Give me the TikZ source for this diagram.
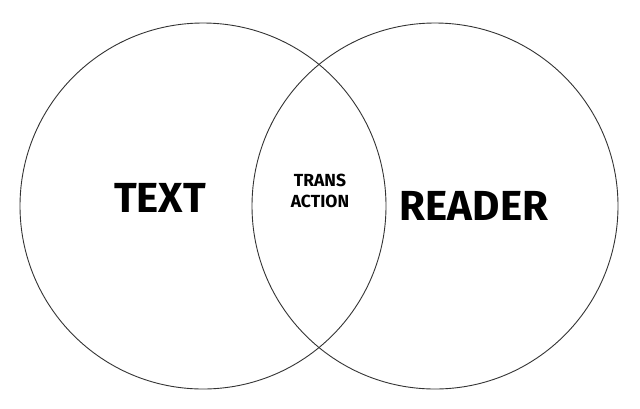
\documentclass[tikz,border=0pt]{standalone}
\usepackage{fontspec}
\setmainfont{Fira Sans}
\begin{document}
\begin{tikzpicture}[x=1pt,y=-1pt,
    ring/.style={draw=black!80,line width=0.9pt},
    biglabel/.style={font=\bfseries\fontsize{42}{42}\selectfont,inner sep=0pt},
    smalllabel/.style={font=\bfseries\fontsize{17.5}{21}\selectfont,inner sep=0pt,align=center}]
    \useasboundingbox (0,0) rectangle (640,408);
    \draw[ring] (203,206) circle[radius=183pt];
    \draw[ring] (435,206) circle[radius=183pt];

    \node[biglabel] (text) at (160,198) {TEXT};
    \node[biglabel] (reader) at (474,206) {READER};
    \node[smalllabel] (trans) at (320,191) {TRANS\\ACTION};
  \end{tikzpicture}
\end{document}
